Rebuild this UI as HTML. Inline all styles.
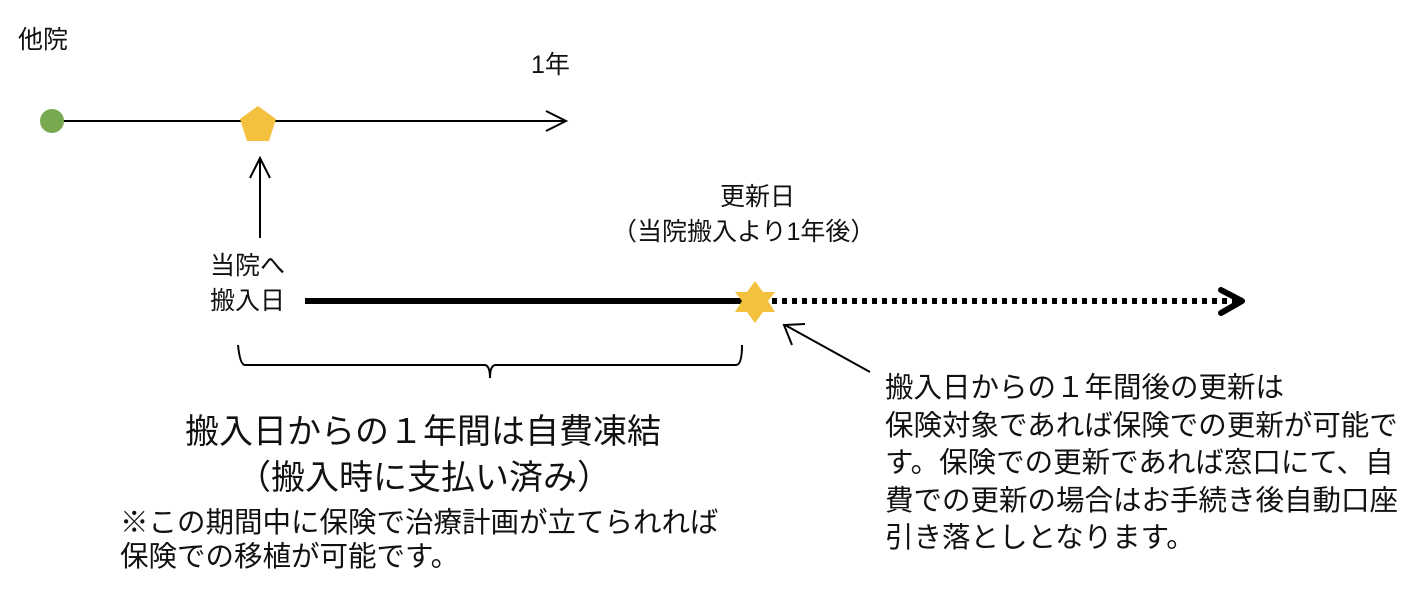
<!DOCTYPE html>
<html><head><meta charset="utf-8"><style>
body{margin:0;width:1426px;height:596px;background:#fff;position:relative;overflow:hidden;font-family:"Liberation Sans","Noto Sans CJK JP",sans-serif;color:#111}
.t{position:absolute;white-space:nowrap;line-height:1}
</style></head><body>
<svg width="1426" height="596" style="position:absolute;left:0;top:0">
<line x1="55" y1="121" x2="565" y2="121" stroke="#000" stroke-width="2"/>
<polyline points="546,111 566,121 546,131" fill="none" stroke="#000" stroke-width="2"/>
<circle cx="52" cy="121" r="12" fill="#78a94f"/>
<polygon points="258,106 276,119 269,141 247,141 240,119" fill="#f4c13e"/>
<line x1="260" y1="238" x2="260" y2="160" stroke="#000" stroke-width="2"/>
<polyline points="250,178 260,158 270,178" fill="none" stroke="#000" stroke-width="2"/>
<line x1="305" y1="301" x2="745" y2="301" stroke="#000" stroke-width="6"/>
<line x1="772" y1="301" x2="1236" y2="301" stroke="#000" stroke-width="6" stroke-dasharray="5,5"/>
<polyline points="1221,290 1242,301 1221,313" fill="none" stroke="#000" stroke-width="6" stroke-linecap="round" stroke-linejoin="round"/>
<polygon points="755,281 763,292 775,292 768,301 775,312 763,312 755,323 747,312 735,312 742,301 735,292 747,292" fill="#f4c13e"/>
<path d="M238,345 Q240,365 245,365 L485,365 Q490,366 490,378 Q490,366 495,365 L736,365 Q742,365 742,345" fill="none" stroke="#000" stroke-width="2"/>
<line x1="870" y1="372" x2="785" y2="325" stroke="#000" stroke-width="2"/>
<polyline points="792,345 784,325 805,324" fill="none" stroke="#000" stroke-width="2"/>
</svg>
<div class="t" style="left:18px;top:28px;font-size:25px">他院</div>
<div class="t" style="left:531px;top:53px;font-size:25px">1年</div>
<div class="t" style="left:210px;top:254px;font-size:25px">当院へ</div>
<div class="t" style="left:210px;top:289px;font-size:25px">搬入日</div>
<div class="t" style="left:720px;top:185px;font-size:25px">更新日</div>
<div class="t" style="left:612px;top:220px;font-size:25px">（当院搬入より1年後）</div>
<div class="t" style="left:185px;top:415px;font-size:34px">搬入日からの１年間は自費凍結</div>
<div class="t" style="left:237px;top:461px;font-size:34px">（搬入時に支払い済み）</div>
<div class="t" style="left:120px;top:509px;font-size:28.5px">※この期間中に保険で治療計画が立てられれば</div>
<div class="t" style="left:120px;top:543px;font-size:28.5px">保険での移植が可能です。</div>
<div class="t" style="left:885px;top:370px;font-size:28.5px;line-height:37.6px">搬入日からの１年間後の更新は<br>保険対象であれば保険での更新が可能で<br>す。保険での更新であれば窓口にて、自<br>費での更新の場合はお手続き後自動口座<br>引き落としとなります。</div>
</body></html>
